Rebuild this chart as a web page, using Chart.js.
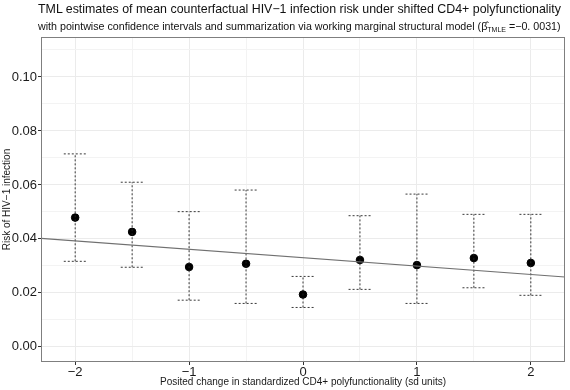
<!DOCTYPE html>
<html>
<head>
<meta charset="utf-8">
<script src="https://cdn.jsdelivr.net/npm/chart.js@4/dist/chart.umd.min.js"></script>
<style>
  html, body { margin: 0; padding: 0; background: #fff; }
  #wrap { position: relative; width: 570px; height: 390px; font-family: "Liberation Sans", Arial, sans-serif; }
  #title { position: absolute; left: 38px; top: 2px; font-size: 12.4px; color: #111; white-space: nowrap; }
  #subtitle { position: absolute; left: 38px; top: 20px; font-size: 10.7px; color: #111; white-space: nowrap; }
  #subtitle sub { font-size: 7px; vertical-align: -2px; }
  canvas { position: absolute; left: 0; top: 0; }
</style>
</head>
<body>
<div id="wrap">
  <canvas id="chart" width="570" height="390"></canvas>
  <div id="title">TML estimates of mean counterfactual HIV−1 infection risk under shifted CD4+ polyfunctionality</div>
  <div id="subtitle">with pointwise confidence intervals and summarization via working marginal structural model (β̂<sub>TMLE</sub> =−0. 0031)</div>
</div>
<script>
// --- DATA ---
const shifts = [-2, -1.5, -1, -0.5, 0, 0.5, 1, 1.5, 2];
const risk   = [0.0479, 0.0426, 0.0296, 0.0308, 0.0194, 0.0322, 0.0303, 0.0329, 0.0311];
const lower  = [0.0317, 0.0295, 0.0173, 0.0161, 0.0146, 0.0213, 0.0161, 0.0219, 0.0191];
const upper  = [0.0715, 0.0610, 0.0501, 0.0581, 0.0261, 0.0486, 0.0566, 0.0491, 0.0491];

// working MSM line, endpoints at the panel edges
const msmX = [-2.3, 2.3];
const msmY = [0.0402, 0.0259];

const xTicks = [-2, -1.5, -1, -0.5, 0, 0.5, 1, 1.5, 2];
const xTickLabels = { "-2": "−2", "-1": "−1", "0": "0", "1": "1", "2": "2" };
const yTicks = [0, 0.01, 0.02, 0.03, 0.04, 0.05, 0.06, 0.07, 0.08, 0.09, 0.10, 0.11];
const yTickLabels = { "0": "0.00", "0.02": "0.02", "0.04": "0.04", "0.06": "0.06", "0.08": "0.08", "0.1": "0.10" };

const capHalf = 0.1;

// build error-bar segments (null y breaks the line)
function buildErrorBars() {
    const pts = [];
    shifts.forEach((x, i) => {
        pts.push({ x: x, y: lower[i] }, { x: x, y: upper[i] }, { x: x, y: null });
        pts.push({ x: x - capHalf, y: upper[i] }, { x: x + capHalf, y: upper[i] }, { x: x, y: null });
        pts.push({ x: x - capHalf, y: lower[i] }, { x: x + capHalf, y: lower[i] }, { x: x, y: null });
    });
    return pts;
}

const isMajorY = v => Math.abs(Math.round(v * 50) - v * 50) < 1e-6;
const isMajorX = v => Number.isInteger(v);

const panelBorder = {
    id: "panelBorder",
    afterDraw(chart) {
        const a = chart.chartArea;
        const ctx = chart.ctx;
        ctx.save();
        ctx.strokeStyle = "#7f7f7f";
        ctx.lineWidth = 1;
        ctx.strokeRect(a.left + 0.5, a.top + 0.5, a.right - a.left - 1, a.bottom - a.top - 1);
        ctx.restore();
    }
};

new Chart(document.getElementById("chart").getContext("2d"), {
    type: "scatter",
    data: {
        datasets: [
            {
                type: "line",
                data: msmX.map((x, i) => ({ x: x, y: msmY[i] })),
                borderColor: "#707070",
                borderWidth: 1.1,
                pointRadius: 0,
                fill: false
            },
            {
                type: "line",
                data: buildErrorBars(),
                borderColor: "#222",
                borderWidth: 0.9,
                borderDash: [2, 2],
                pointRadius: 0,
                spanGaps: false,
                fill: false
            },
            {
                data: shifts.map((x, i) => ({ x: x, y: risk[i] })),
                backgroundColor: "#000",
                borderColor: "#000",
                pointRadius: 3.8
            }
        ]
    },
    options: {
        responsive: false,
        animation: false,
        events: [],
        layout: { padding: { top: 37, right: 3, left: 0, bottom: 0 } },
        plugins: { legend: { display: false }, tooltip: { enabled: false } },
        scales: {
            x: {
                type: "linear",
                min: -2.3,
                max: 2.3,
                afterBuildTicks: s => { s.ticks = xTicks.map(v => ({ value: v })); },
                afterFit: s => { s.height = 28; },
                border: { display: false },
                grid: {
                    color: c => (c.tick && isMajorX(c.tick.value) ? "#ebebeb" : "#f3f3f3"),
                    tickColor: c => (c.tick && isMajorX(c.tick.value) ? "#333" : "rgba(0,0,0,0)"),
                    tickLength: 3
                },
                ticks: {
                    autoSkip: false,
                    maxRotation: 0,
                    padding: 0,
                    color: "#1a1a1a",
                    font: { family: "Liberation Sans", size: 13 },
                    callback: v => xTickLabels[String(v)] || ""
                },
                title: {
                    display: true,
                    text: "Posited change in standardized CD4+ polyfunctionality (sd units)",
                    color: "#1a1a1a",
                    font: { family: "Liberation Sans", size: 10 },
                    padding: { top: 0, bottom: 2 }
                }
            },
            y: {
                type: "linear",
                min: -0.0056,
                max: 0.1148,
                afterBuildTicks: s => { s.ticks = yTicks.map(v => ({ value: v })); },
                afterFit: s => { s.width = 41; },
                border: { display: false },
                grid: {
                    color: c => (c.tick && isMajorY(c.tick.value) ? "#ebebeb" : "#f3f3f3"),
                    tickColor: c => (c.tick && isMajorY(c.tick.value) ? "#333" : "rgba(0,0,0,0)"),
                    tickLength: 3
                },
                ticks: {
                    autoSkip: false,
                    padding: 1,
                    color: "#1a1a1a",
                    font: { family: "Liberation Sans", size: 13 },
                    callback: v => (isMajorY(v) ? yTickLabels[String(Math.round(v * 100) / 100)] || "" : "")
                },
                title: {
                    display: true,
                    text: "Risk of HIV−1 infection",
                    color: "#1a1a1a",
                    font: { family: "Liberation Sans", size: 10 },
                    padding: { top: 1.5, bottom: 0 }
                }
            }
        }
    },
    plugins: [panelBorder]
});
</script>
</body>
</html>
